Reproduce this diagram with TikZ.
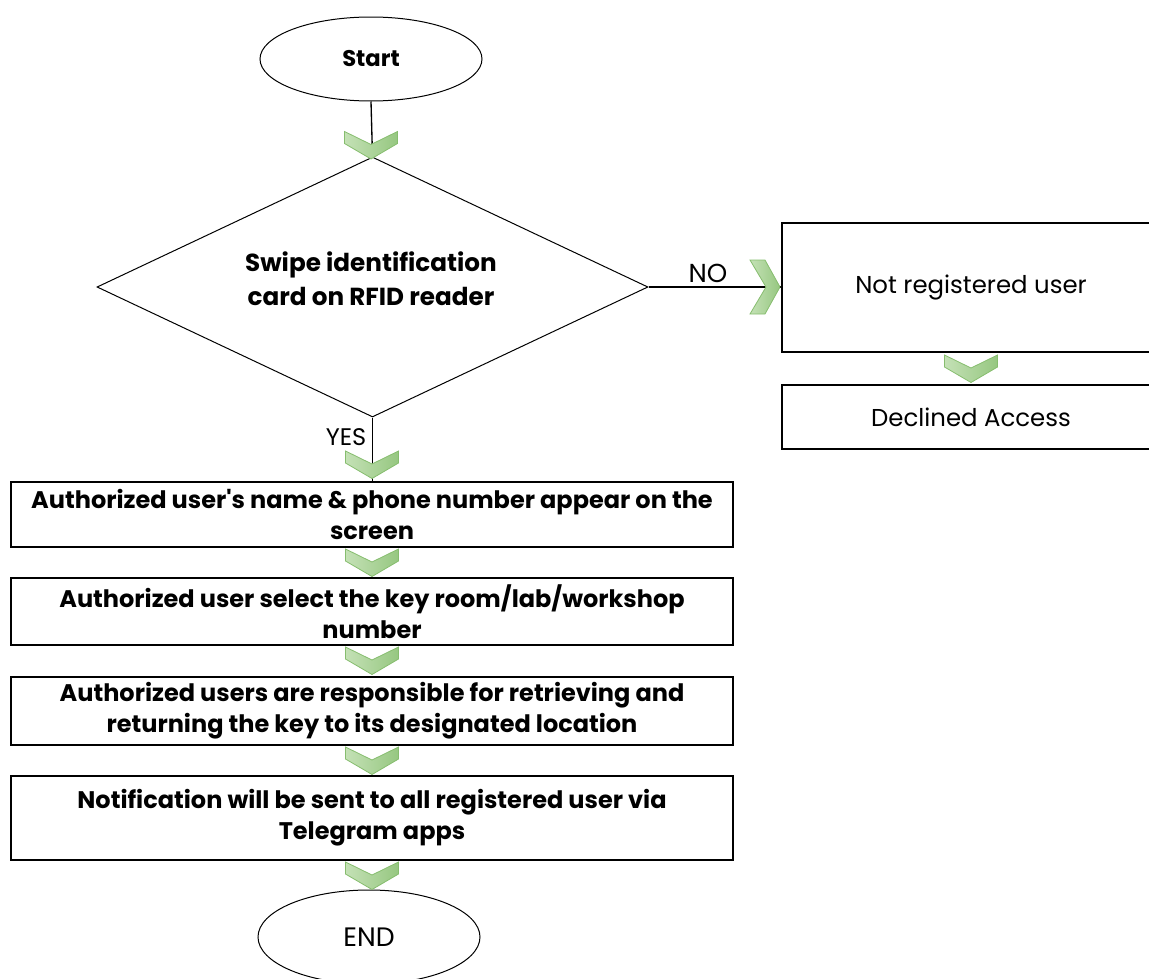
\documentclass[tikz,border=0pt]{standalone}
\usepackage{fontspec}
\setmainfont{Poppins}[Ligatures=TeXOff]
\usetikzlibrary{shapes.geometric,calc}
\definecolor{chevL}{HTML}{C4E1B6}
\definecolor{chevR}{HTML}{96C780}
\definecolor{chevB}{HTML}{86BD6E}
\tikzset{
  chev/.style={draw=chevB, line width=0.6pt, left color=chevL, right color=chevR},
  chevdown/.pic={\path[chev] (-26.5,0) -- (0,13) -- (26.5,0) -- (26.5,12) -- (0,27.5) -- (-26.5,12) -- cycle;},
  chevright/.pic={\path[chev] (-30,-27) -- (-15,-27) -- (0,0) -- (-15,27) -- (-30,27) -- (-14,0) -- cycle;},
  terminal/.style={draw, ellipse, line width=0.75pt, inner sep=0pt, minimum width=166.5pt},
  procbox/.style={draw, line width=1.5pt, inner sep=0pt, align=center},
  bigbox/.style={procbox, minimum width=541.5pt, font=\fontsize{18}{23.3}\selectfont\bfseries},
  sidebox/.style={procbox, minimum width=283.5pt, font=\fontsize{18.3}{23}\selectfont},
  conn/.style={line width=1pt},
  lbl/.style={font=\fontsize{18}{20}\selectfont, inner sep=0pt}
}
\begin{document}
\begin{tikzpicture}[x=0.75pt,y=-0.75pt]
\useasboundingbox (0,0) rectangle (1149,978);
\clip (0,0) rectangle (1149,978);
% nodes
\node[terminal, minimum height=63pt, font=\fontsize{17}{20}\selectfont\bfseries] (start) at (371,59) {Start};
\node[draw, diamond, line width=0.75pt, inner sep=0pt, minimum width=413.25pt, minimum height=195pt] (dia) at (372.5,287) {};
\node[align=center, inner sep=0pt, font=\fontsize{18.5}{25.5}\selectfont\bfseries] (dtext) at (371,279) {Swipe identification\\card on RFID reader};
\node[sidebox, minimum height=96.75pt] (nru) at (971,287.5) {Not registered user};
\node[sidebox, minimum height=48pt] (dec) at (971,417) {Declined Access};
\node[bigbox, minimum height=48.75pt] (b1) at (372,514.5) {Authorized user's name \& phone number appear on the\\screen};
\node[bigbox, minimum height=50.25pt] (b2) at (372,611.5) {Authorized user select the key room/lab/workshop\\number};
\node[bigbox, minimum height=51pt] (b3) at (372,711) {Authorized users are responsible for retrieving and\\returning the key to its designated location};
\node[bigbox, minimum height=63pt] (b4) at (372,818) {Notification will be sent to all registered user via\\Telegram apps};
\node[terminal, minimum height=70.5pt, font=\fontsize{20}{22}\selectfont] (end) at (369,937) {END};
% connectors
\draw[conn] (start.south) -- (dia.north);
\draw[conn] (dia.east) -- (dia.east -| nru.west);
\draw[conn] (dia.south) -- (dia.south |- b1.north);
\node[lbl, font=\fontsize{19.5}{20}\selectfont] (no) at (708,273) {NO};
\node[lbl] (yes) at (346,437) {YES};
% chevrons
\pic at ($(start.south)+(0,30)$) {chevdown};
\pic at ($(dia.east -| nru.west)+(-1,0)$) {chevright};
\pic at ($(nru.south)+(0,2)$) {chevdown};
\pic at ($(b1.north)+(0,-30)$) {chevdown};
\pic at ($(b1.south)+(0,1)$) {chevdown};
\pic at ($(b2.south)+(0,1)$) {chevdown};
\pic at ($(b3.south)+(0,1)$) {chevdown};
\pic at ($(b4.south)+(0,1)$) {chevdown};
\end{tikzpicture}
\end{document}
